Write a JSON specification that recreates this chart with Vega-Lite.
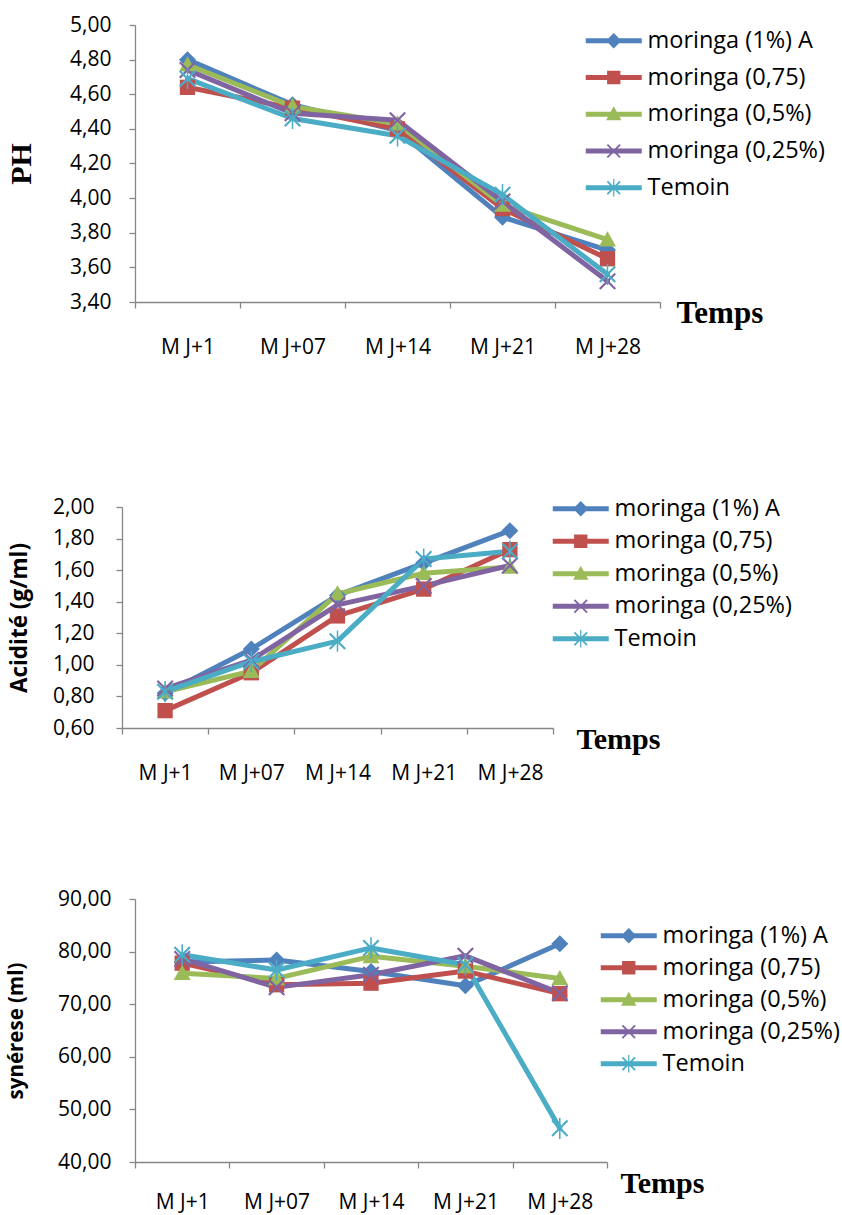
{
  "$schema": "https://vega.github.io/schema/vega-lite/v6.json",
  "background": "white",
  "padding": {"left": 6, "top": 14, "right": 0, "bottom": 4},
  "config": {
    "view": {"stroke": null},
    "font": "Open Sans",
    "axis": {"domainColor": "#868686", "tickColor": "#868686", "labelColor": "#000000", "titleColor": "#000000", "grid": false, "labelFont": "Open Sans", "labelFontSize": 21, "tickSize": 6, "domainWidth": 1.3, "tickWidth": 1.3},
    "axisX": {"labelAngle": 0, "labelPadding": 28, "tickBand": "extent"},
    "legend": {"labelFont": "Open Sans", "labelFontSize": 23.5, "labelColor": "#000000", "labelLimit": 0, "symbolSize": 196, "symbolOffset": 21, "labelOffset": 22, "orient": "none", "symbolOpacity": 1, "symbolStrokeWidth": 0}
  },
  "datasets": {
    "ph": [
      {"temps": "M J+1", "serie": "moringa (1%) A", "valeur": 4.80},
      {"temps": "M J+1", "serie": "moringa (0,75)", "valeur": 4.64},
      {"temps": "M J+1", "serie": "moringa (0,5%)", "valeur": 4.77},
      {"temps": "M J+1", "serie": "moringa (0,25%)", "valeur": 4.74},
      {"temps": "M J+1", "serie": "Temoin", "valeur": 4.69},
      {"temps": "M J+07", "serie": "moringa (1%) A", "valeur": 4.54},
      {"temps": "M J+07", "serie": "moringa (0,75)", "valeur": 4.52},
      {"temps": "M J+07", "serie": "moringa (0,5%)", "valeur": 4.53},
      {"temps": "M J+07", "serie": "moringa (0,25%)", "valeur": 4.49},
      {"temps": "M J+07", "serie": "Temoin", "valeur": 4.46},
      {"temps": "M J+14", "serie": "moringa (1%) A", "valeur": 4.39},
      {"temps": "M J+14", "serie": "moringa (0,75)", "valeur": 4.40},
      {"temps": "M J+14", "serie": "moringa (0,5%)", "valeur": 4.43},
      {"temps": "M J+14", "serie": "moringa (0,25%)", "valeur": 4.45},
      {"temps": "M J+14", "serie": "Temoin", "valeur": 4.36},
      {"temps": "M J+21", "serie": "moringa (1%) A", "valeur": 3.89},
      {"temps": "M J+21", "serie": "moringa (0,75)", "valeur": 3.94},
      {"temps": "M J+21", "serie": "moringa (0,5%)", "valeur": 3.96},
      {"temps": "M J+21", "serie": "moringa (0,25%)", "valeur": 3.98},
      {"temps": "M J+21", "serie": "Temoin", "valeur": 4.02},
      {"temps": "M J+28", "serie": "moringa (1%) A", "valeur": 3.70},
      {"temps": "M J+28", "serie": "moringa (0,75)", "valeur": 3.65},
      {"temps": "M J+28", "serie": "moringa (0,5%)", "valeur": 3.76},
      {"temps": "M J+28", "serie": "moringa (0,25%)", "valeur": 3.52},
      {"temps": "M J+28", "serie": "Temoin", "valeur": 3.56}
    ],
    "acid": [
      {"temps": "M J+1", "serie": "moringa (1%) A", "valeur": 0.82},
      {"temps": "M J+1", "serie": "moringa (0,75)", "valeur": 0.71},
      {"temps": "M J+1", "serie": "moringa (0,5%)", "valeur": 0.83},
      {"temps": "M J+1", "serie": "moringa (0,25%)", "valeur": 0.85},
      {"temps": "M J+1", "serie": "Temoin", "valeur": 0.83},
      {"temps": "M J+07", "serie": "moringa (1%) A", "valeur": 1.10},
      {"temps": "M J+07", "serie": "moringa (0,75)", "valeur": 0.95},
      {"temps": "M J+07", "serie": "moringa (0,5%)", "valeur": 0.96},
      {"temps": "M J+07", "serie": "moringa (0,25%)", "valeur": 1.03},
      {"temps": "M J+07", "serie": "Temoin", "valeur": 1.02},
      {"temps": "M J+14", "serie": "moringa (1%) A", "valeur": 1.44},
      {"temps": "M J+14", "serie": "moringa (0,75)", "valeur": 1.31},
      {"temps": "M J+14", "serie": "moringa (0,5%)", "valeur": 1.45},
      {"temps": "M J+14", "serie": "moringa (0,25%)", "valeur": 1.38},
      {"temps": "M J+14", "serie": "Temoin", "valeur": 1.15},
      {"temps": "M J+21", "serie": "moringa (1%) A", "valeur": 1.645},
      {"temps": "M J+21", "serie": "moringa (0,75)", "valeur": 1.48},
      {"temps": "M J+21", "serie": "moringa (0,5%)", "valeur": 1.58},
      {"temps": "M J+21", "serie": "moringa (0,25%)", "valeur": 1.50},
      {"temps": "M J+21", "serie": "Temoin", "valeur": 1.67},
      {"temps": "M J+28", "serie": "moringa (1%) A", "valeur": 1.85},
      {"temps": "M J+28", "serie": "moringa (0,75)", "valeur": 1.73},
      {"temps": "M J+28", "serie": "moringa (0,5%)", "valeur": 1.62},
      {"temps": "M J+28", "serie": "moringa (0,25%)", "valeur": 1.63},
      {"temps": "M J+28", "serie": "Temoin", "valeur": 1.72}
    ],
    "syn": [
      {"temps": "M J+1", "serie": "moringa (1%) A", "valeur": 78.0},
      {"temps": "M J+1", "serie": "moringa (0,75)", "valeur": 77.8},
      {"temps": "M J+1", "serie": "moringa (0,5%)", "valeur": 75.9},
      {"temps": "M J+1", "serie": "moringa (0,25%)", "valeur": 78.6},
      {"temps": "M J+1", "serie": "Temoin", "valeur": 79.4},
      {"temps": "M J+07", "serie": "moringa (1%) A", "valeur": 78.4},
      {"temps": "M J+07", "serie": "moringa (0,75)", "valeur": 73.7},
      {"temps": "M J+07", "serie": "moringa (0,5%)", "valeur": 74.9},
      {"temps": "M J+07", "serie": "moringa (0,25%)", "valeur": 73.2},
      {"temps": "M J+07", "serie": "Temoin", "valeur": 76.5},
      {"temps": "M J+14", "serie": "moringa (1%) A", "valeur": 76.2},
      {"temps": "M J+14", "serie": "moringa (0,75)", "valeur": 74.0},
      {"temps": "M J+14", "serie": "moringa (0,5%)", "valeur": 79.1},
      {"temps": "M J+14", "serie": "moringa (0,25%)", "valeur": 75.6},
      {"temps": "M J+14", "serie": "Temoin", "valeur": 80.7},
      {"temps": "M J+21", "serie": "moringa (1%) A", "valeur": 73.5},
      {"temps": "M J+21", "serie": "moringa (0,75)", "valeur": 76.3},
      {"temps": "M J+21", "serie": "moringa (0,5%)", "valeur": 77.2},
      {"temps": "M J+21", "serie": "moringa (0,25%)", "valeur": 79.2},
      {"temps": "M J+21", "serie": "Temoin", "valeur": 77.5},
      {"temps": "M J+28", "serie": "moringa (1%) A", "valeur": 81.5},
      {"temps": "M J+28", "serie": "moringa (0,75)", "valeur": 72.0},
      {"temps": "M J+28", "serie": "moringa (0,5%)", "valeur": 74.9},
      {"temps": "M J+28", "serie": "moringa (0,25%)", "valeur": 72.1},
      {"temps": "M J+28", "serie": "Temoin", "valeur": 46.4}
    ]
  },
  "resolve": {"scale": {"color": "independent", "shape": "independent"}, "legend": {"color": "independent", "shape": "independent"}},
  "spacing": 139,
  "vconcat": [
    {
      "width": 525,
      "height": 277,
      "data": {"name": "ph"},
      "resolve": {"scale": {"shape": "independent"}, "legend": {"color": "independent", "shape": "independent"}},
      "encoding": {
        "x": {"field": "temps", "type": "ordinal", "sort": ["M J+1", "M J+07", "M J+14", "M J+21", "M J+28"], "bandPosition": 0.5, "scale": {"type": "band", "paddingInner": 0, "paddingOuter": 0},
          "axis": {"title": "Temps", "titleX": 541, "titleY": 20, "titleAlign": "left", "titleBaseline": "alphabetic", "titleAngle": 0, "titleFont": "Liberation Serif", "titleFontSize": 31, "titleFontWeight": "bold"}},
        "y": {"field": "valeur", "type": "quantitative", "scale": {"domain": [3.4, 5.0], "nice": false, "zero": false},
          "axis": {"title": "PH", "titleFont": "Liberation Serif", "titleFontSize": 30, "titleFontWeight": "bold", "titlePadding": 33, "labelPadding": 18, "values": [3.4, 3.6, 3.8, 4.0, 4.2, 4.4, 4.6, 4.8, 5.0], "labelExpr": "replace(format(datum.value, '.2f'), '.', ',')"}},
        "color": {"field": "serie", "type": "nominal", "legend": null,
          "scale": {"domain": ["moringa (1%) A", "moringa (0,75)", "moringa (0,5%)", "moringa (0,25%)", "Temoin"], "range": ["#4F81BD", "#C0504D", "#9BBB59", "#8064A2", "#4BACC6"]}}
      },
      "layer": [
        {"mark": {"type": "line", "strokeWidth": 5, "strokeJoin": "round", "strokeCap": "round"}},
        {"mark": {"type": "point", "filled": true, "size": 289, "opacity": 1},
          "encoding": {
            "shape": {"field": "serie", "type": "nominal", "legend": null,
            "scale": {"domain": ["moringa (1%) A", "moringa (0,75)", "moringa (0,5%)", "moringa (0,25%)", "Temoin"],
              "range": ["M0,-1L1,0L0,1L-1,0Z", "M-0.9,-0.9H0.9V0.9H-0.9Z", "M0,-1L1,0.8H-1Z", "M-1,-0.82L-0.82,-1L0,-0.18L0.82,-1L1,-0.82L0.18,0L1,0.82L0.82,1L0,0.18L-0.82,1L-1,0.82L-0.18,0Z", "M-1,-0.82L-0.82,-1L0,-0.18L0.82,-1L1,-0.82L0.18,0L1,0.82L0.82,1L0,0.18L-0.82,1L-1,0.82L-0.18,0Z M-0.09,-1.25H0.09V1.25H-0.09Z"]}}}},
        {"mark": {"type": "point", "filled": true, "size": 0, "opacity": 1},
          "encoding": {
            "color": {"field": "serie", "type": "nominal",
              "scale": {"domain": ["moringa (1%) A", "moringa (0,75)", "moringa (0,5%)", "moringa (0,25%)", "Temoin"], "range": ["#4F81BD", "#C0504D", "#9BBB59", "#8064A2", "#4BACC6"]},
              "legend": {"title": null, "legendX": 446, "legendY": 4, "rowPadding": 11.75}},
            "shape": {"field": "serie", "type": "nominal", "legend": null,
            "scale": {"domain": ["moringa (1%) A", "moringa (0,75)", "moringa (0,5%)", "moringa (0,25%)", "Temoin"],
              "range": ["M-4,-0.36H4V0.36H-4Z M0,-1.1L1.1,0L0,1.1L-1.1,0Z", "M-4,-0.36H4V0.36H-4Z M-0.95,-0.95H0.95V0.95H-0.95Z", "M-4,-0.36H4V0.36H-4Z M0,-1.15L1.1,0.85H-1.1Z", "M-4,-0.36H4V0.36H-4Z M-1,-0.82L-0.82,-1L0,-0.18L0.82,-1L1,-0.82L0.18,0L1,0.82L0.82,1L0,0.18L-0.82,1L-1,0.82L-0.18,0Z", "M-4,-0.36H4V0.36H-4Z M-1,-0.82L-0.82,-1L0,-0.18L0.82,-1L1,-0.82L0.18,0L1,0.82L0.82,1L0,0.18L-0.82,1L-1,0.82L-0.18,0Z M-0.09,-1.25H0.09V1.25H-0.09Z"]}}}}
      ]
    },
    {
      "resolve": {"scale": {"color": "independent", "shape": "independent"}, "legend": {"color": "independent", "shape": "independent"}},
      "spacing": 105,
      "vconcat": [
        {
          "width": 431,
          "height": 221,
          "data": {"name": "acid"},
          "resolve": {"scale": {"shape": "independent"}, "legend": {"color": "independent", "shape": "independent"}},
          "encoding": {
            "x": {"field": "temps", "type": "ordinal", "sort": ["M J+1", "M J+07", "M J+14", "M J+21", "M J+28"], "bandPosition": 0.5, "scale": {"type": "band", "paddingInner": 0, "paddingOuter": 0, "range": [-13, 418]},
              "axis": {"title": "Temps", "titleX": 441, "titleY": 20, "titleAlign": "left", "titleBaseline": "alphabetic", "titleAngle": 0, "titleFont": "Liberation Serif", "titleFontSize": 30, "titleFontWeight": "bold"}},
            "y": {"field": "valeur", "type": "quantitative", "scale": {"domain": [0.6, 2.0], "nice": false, "zero": false},
              "axis": {"title": "Acidité (g/ml)", "offset": 13, "titleFont": "Open Sans", "titleFontSize": 22.5, "titleFontWeight": "bold", "titlePadding": 21, "labelPadding": 22, "values": [0.6, 0.8, 1.0, 1.2, 1.4, 1.6, 1.8, 2.0], "labelExpr": "replace(format(datum.value, '.2f'), '.', ',')"}},
            "color": {"field": "serie", "type": "nominal", "legend": null,
              "scale": {"domain": ["moringa (1%) A", "moringa (0,75)", "moringa (0,5%)", "moringa (0,25%)", "Temoin"], "range": ["#4F81BD", "#C0504D", "#9BBB59", "#8064A2", "#4BACC6"]}}
          },
          "layer": [
            {"mark": {"type": "line", "strokeWidth": 5, "strokeJoin": "round", "strokeCap": "round"}},
            {"mark": {"type": "point", "filled": true, "size": 289, "opacity": 1},
              "encoding": {
                "shape": {"field": "serie", "type": "nominal", "legend": null,
                "scale": {"domain": ["moringa (1%) A", "moringa (0,75)", "moringa (0,5%)", "moringa (0,25%)", "Temoin"],
                  "range": ["M0,-1L1,0L0,1L-1,0Z", "M-0.9,-0.9H0.9V0.9H-0.9Z", "M0,-1L1,0.8H-1Z", "M-1,-0.82L-0.82,-1L0,-0.18L0.82,-1L1,-0.82L0.18,0L1,0.82L0.82,1L0,0.18L-0.82,1L-1,0.82L-0.18,0Z", "M-1,-0.82L-0.82,-1L0,-0.18L0.82,-1L1,-0.82L0.18,0L1,0.82L0.82,1L0,0.18L-0.82,1L-1,0.82L-0.18,0Z M-0.09,-1.25H0.09V1.25H-0.09Z"]}}}},
            {"mark": {"type": "point", "filled": true, "size": 0, "opacity": 1},
              "encoding": {
                "color": {"field": "serie", "type": "nominal",
                  "scale": {"domain": ["moringa (1%) A", "moringa (0,75)", "moringa (0,5%)", "moringa (0,25%)", "Temoin"], "range": ["#4F81BD", "#C0504D", "#9BBB59", "#8064A2", "#4BACC6"]},
                  "legend": {"title": null, "legendX": 413, "legendY": -10, "rowPadding": 7.5}},
                "shape": {"field": "serie", "type": "nominal", "legend": null,
                "scale": {"domain": ["moringa (1%) A", "moringa (0,75)", "moringa (0,5%)", "moringa (0,25%)", "Temoin"],
                  "range": ["M-4,-0.36H4V0.36H-4Z M0,-1.1L1.1,0L0,1.1L-1.1,0Z", "M-4,-0.36H4V0.36H-4Z M-0.95,-0.95H0.95V0.95H-0.95Z", "M-4,-0.36H4V0.36H-4Z M0,-1.15L1.1,0.85H-1.1Z", "M-4,-0.36H4V0.36H-4Z M-1,-0.82L-0.82,-1L0,-0.18L0.82,-1L1,-0.82L0.18,0L1,0.82L0.82,1L0,0.18L-0.82,1L-1,0.82L-0.18,0Z", "M-4,-0.36H4V0.36H-4Z M-1,-0.82L-0.82,-1L0,-0.18L0.82,-1L1,-0.82L0.18,0L1,0.82L0.82,1L0,0.18L-0.82,1L-1,0.82L-0.18,0Z M-0.09,-1.25H0.09V1.25H-0.09Z"]}}}}
          ]
        },
        {
          "width": 472,
          "height": 263,
          "data": {"name": "syn"},
          "resolve": {"scale": {"shape": "independent"}, "legend": {"color": "independent", "shape": "independent"}},
          "encoding": {
            "x": {"field": "temps", "type": "ordinal", "sort": ["M J+1", "M J+07", "M J+14", "M J+21", "M J+28"], "bandPosition": 0.5, "scale": {"type": "band", "paddingInner": 0, "paddingOuter": 0},
              "axis": {"title": "Temps", "titleX": 485, "titleY": 30, "titleAlign": "left", "titleBaseline": "alphabetic", "titleAngle": 0, "titleFont": "Liberation Serif", "titleFontSize": 30, "titleFontWeight": "bold", "labelPadding": 23}},
            "y": {"field": "valeur", "type": "quantitative", "scale": {"domain": [40, 90], "nice": false, "zero": false},
              "axis": {"title": "synérese (ml)", "titleFont": "Open Sans", "titleFontSize": 20.5, "titleFontWeight": "bold", "titlePadding": 31.5, "labelPadding": 18, "values": [40, 50, 60, 70, 80, 90], "labelExpr": "replace(format(datum.value, '.2f'), '.', ',')"}},
            "color": {"field": "serie", "type": "nominal", "legend": null,
              "scale": {"domain": ["moringa (1%) A", "moringa (0,75)", "moringa (0,5%)", "moringa (0,25%)", "Temoin"], "range": ["#4F81BD", "#C0504D", "#9BBB59", "#8064A2", "#4BACC6"]}}
          },
          "layer": [
            {"mark": {"type": "line", "strokeWidth": 5, "strokeJoin": "round", "strokeCap": "round"}},
            {"mark": {"type": "point", "filled": true, "size": 289, "opacity": 1},
              "encoding": {
                "shape": {"field": "serie", "type": "nominal", "legend": null,
                "scale": {"domain": ["moringa (1%) A", "moringa (0,75)", "moringa (0,5%)", "moringa (0,25%)", "Temoin"],
                  "range": ["M0,-1L1,0L0,1L-1,0Z", "M-0.9,-0.9H0.9V0.9H-0.9Z", "M0,-1L1,0.8H-1Z", "M-1,-0.82L-0.82,-1L0,-0.18L0.82,-1L1,-0.82L0.18,0L1,0.82L0.82,1L0,0.18L-0.82,1L-1,0.82L-0.18,0Z", "M-1,-0.82L-0.82,-1L0,-0.18L0.82,-1L1,-0.82L0.18,0L1,0.82L0.82,1L0,0.18L-0.82,1L-1,0.82L-0.18,0Z M-0.09,-1.25H0.09V1.25H-0.09Z"]}}}},
            {"mark": {"type": "point", "filled": true, "size": 0, "opacity": 1},
              "encoding": {
                "color": {"field": "serie", "type": "nominal",
                  "scale": {"domain": ["moringa (1%) A", "moringa (0,75)", "moringa (0,5%)", "moringa (0,25%)", "Temoin"], "range": ["#4F81BD", "#C0504D", "#9BBB59", "#8064A2", "#4BACC6"]},
                  "legend": {"title": null, "legendX": 461, "legendY": 25, "rowPadding": 7}},
                "shape": {"field": "serie", "type": "nominal", "legend": null,
                "scale": {"domain": ["moringa (1%) A", "moringa (0,75)", "moringa (0,5%)", "moringa (0,25%)", "Temoin"],
                  "range": ["M-4,-0.36H4V0.36H-4Z M0,-1.1L1.1,0L0,1.1L-1.1,0Z", "M-4,-0.36H4V0.36H-4Z M-0.95,-0.95H0.95V0.95H-0.95Z", "M-4,-0.36H4V0.36H-4Z M0,-1.15L1.1,0.85H-1.1Z", "M-4,-0.36H4V0.36H-4Z M-1,-0.82L-0.82,-1L0,-0.18L0.82,-1L1,-0.82L0.18,0L1,0.82L0.82,1L0,0.18L-0.82,1L-1,0.82L-0.18,0Z", "M-4,-0.36H4V0.36H-4Z M-1,-0.82L-0.82,-1L0,-0.18L0.82,-1L1,-0.82L0.18,0L1,0.82L0.82,1L0,0.18L-0.82,1L-1,0.82L-0.18,0Z M-0.09,-1.25H0.09V1.25H-0.09Z"]}}}}
          ]
        }
      ]
    }
  ]
}
